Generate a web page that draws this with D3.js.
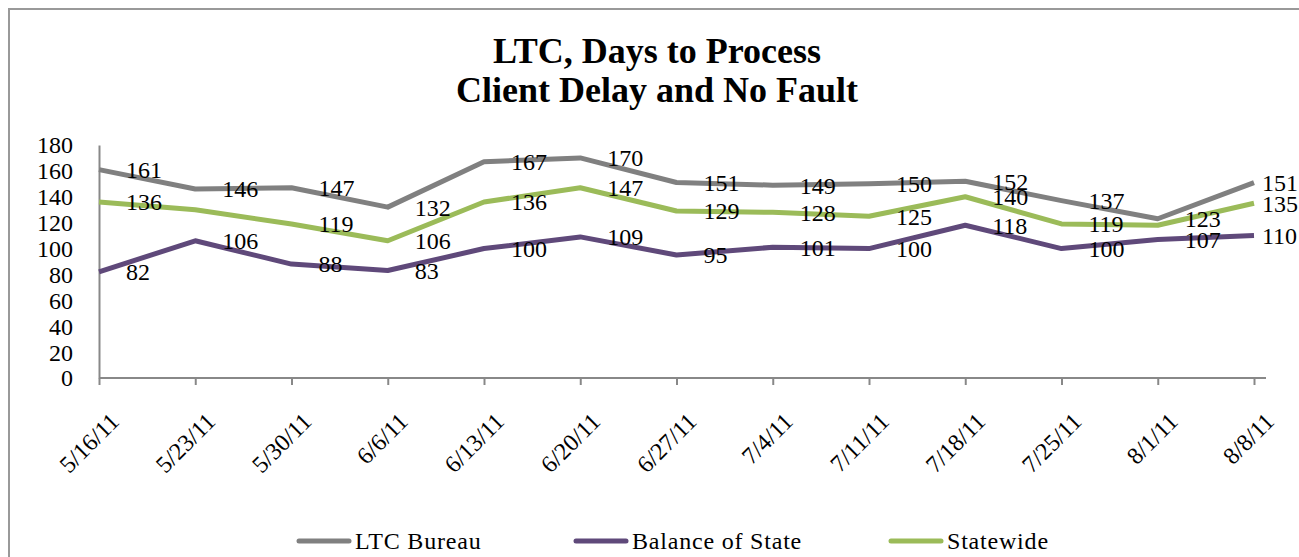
<!DOCTYPE html>
<html>
<head>
<meta charset="utf-8">
<script src="https://cdn.jsdelivr.net/npm/d3@7"></script>
<style>
  body { margin: 0; background: #fff; }
  text { font-family: "Liberation Serif", "Times New Roman", serif; fill: #000; }
</style>
</head>
<body>
<div class="chart"></div>
<script>
// LTC days to process line chart

var dates = ["5/16/11", "5/23/11", "5/30/11", "6/6/11", "6/13/11", "6/20/11", "6/27/11",
  "7/4/11", "7/11/11", "7/18/11", "7/25/11", "8/1/11", "8/8/11"];
var ltcBureau = [161, 146, 147, 132, 167, 170, 151, 149, 150, 152, 137, 123, 151];
var balanceOfState = [82, 106, 88, 83, 100, 109, 95, 101, 100, 118, 100, 107, 110];
var statewide = [136, 130, 119, 106, 136, 147, 129, 128, 125, 140, 119, 118, 135];
var seriesNames = ["LTC Bureau", "Balance of State", "Statewide"];
var yTicks = [0, 20, 40, 60, 80, 100, 120, 140, 160, 180];
// data labels that are not shown in the original
var hiddenLabels = [["Statewide", "5/23/11"], ["Statewide", "8/1/11"]];

var svgWidth = 1299;
var svgHeight = 557;

var margin = { top: 145, right: 33, bottom: 179, left: 99 };
var width = svgWidth - margin.left - margin.right;
var height = svgHeight - margin.top - margin.bottom;

var colors = { "LTC Bureau": "#808080", "Balance of State": "#5f497a", "Statewide": "#9bbb59" };

var svg = d3.select(".chart")
  .append("svg")
  .attr("width", svgWidth)
  .attr("height", svgHeight);

// outer chart border
svg.append("rect")
  .attr("x", 9)
  .attr("y", 9)
  .attr("width", svgWidth + 20)
  .attr("height", svgHeight + 20)
  .attr("fill", "none")
  .attr("stroke", "#999")
  .attr("stroke-width", 2);

// title
var title = svg.append("text")
  .attr("text-anchor", "middle")
  .style("font-size", "36px")
  .style("font-weight", "bold");
title.append("tspan").attr("x", 657).attr("y", 63).text("LTC, Days to Process");
title.append("tspan").attr("x", 657).attr("y", 102).text("Client Delay and No Fault");

var chartGroup = svg.append("g")
  .attr("transform", `translate(${margin.left}, ${margin.top})`);

var xScale = d3.scalePoint().domain(dates).range([0, width - 12]);
var yScale = d3.scaleLinear().domain([0, 180]).range([height, 0]);

// y axis
var yAxis = chartGroup.append("g")
  .call(d3.axisLeft(yScale).tickValues(yTicks).tickSize(0).tickPadding(26));
yAxis.select(".domain").attr("stroke", "#888").attr("stroke-width", 2);
yAxis.selectAll("text").style("font-size", "24px").attr("dy", "0.33em");

// x axis
var xAxis = chartGroup.append("g")
  .attr("transform", `translate(0, ${height})`)
  .call(d3.axisBottom(xScale).tickSizeOuter(0).tickSize(7));
xAxis.select(".domain").attr("d", `M0,0H${width}`).attr("stroke", "#888").attr("stroke-width", 2);
xAxis.selectAll(".tick line").attr("stroke", "#888").attr("stroke-width", 2);
xAxis.selectAll("text")
  .style("font-size", "24px")
  .attr("text-anchor", "end")
  .attr("x", null).attr("y", null).attr("dy", null)
  .attr("transform", "translate(21, 45) rotate(-45)");

var seriesData = [
  { name: seriesNames[0], values: ltcBureau },
  { name: seriesNames[1], values: balanceOfState },
  { name: seriesNames[2], values: statewide }
];

var line = d3.line()
  .x((d, i) => xScale(dates[i]))
  .y(d => yScale(d));

chartGroup.selectAll("path.series")
  .data(seriesData)
  .enter()
  .append("path")
  .attr("class", "series")
  .attr("d", d => line(d.values))
  .attr("fill", "none")
  .attr("stroke", d => colors[d.name])
  .attr("stroke-width", 5)
  .attr("stroke-linejoin", "round");

// data labels, to the right of each point
function isHidden(name, date) {
  return hiddenLabels.some(h => h[0] === name && h[1] === date);
}

seriesData.forEach(function(s) {
  var labels = s.values.map((v, i) => ({ v: v, date: dates[i] }))
    .filter(d => !isHidden(s.name, d.date));
  chartGroup.selectAll(null)
    .data(labels)
    .enter()
    .append("text")
    .attr("x", d => Math.min(xScale(d.date) + 27, svgWidth - margin.left - 37))
    .attr("y", d => yScale(d.v))
    .attr("dy", "0.35em")
    .style("font-size", "24px")
    .text(d => d.v);
});

// legend
var legendX = [299, 576, 891];
var legend = svg.selectAll("g.legend")
  .data(seriesNames)
  .enter()
  .append("g")
  .attr("class", "legend")
  .attr("transform", (d, i) => `translate(${legendX[i]}, 541)`);

legend.append("line")
  .attr("x1", 0).attr("x2", 50)
  .attr("stroke", d => colors[d])
  .attr("stroke-width", 5)
  .attr("stroke-linecap", "round");

legend.append("text")
  .attr("x", 56)
  .attr("y", 8)
  .style("font-size", "24px")
  .style("letter-spacing", "0.8px")
  .text(d => d);
</script>
</body>
</html>
